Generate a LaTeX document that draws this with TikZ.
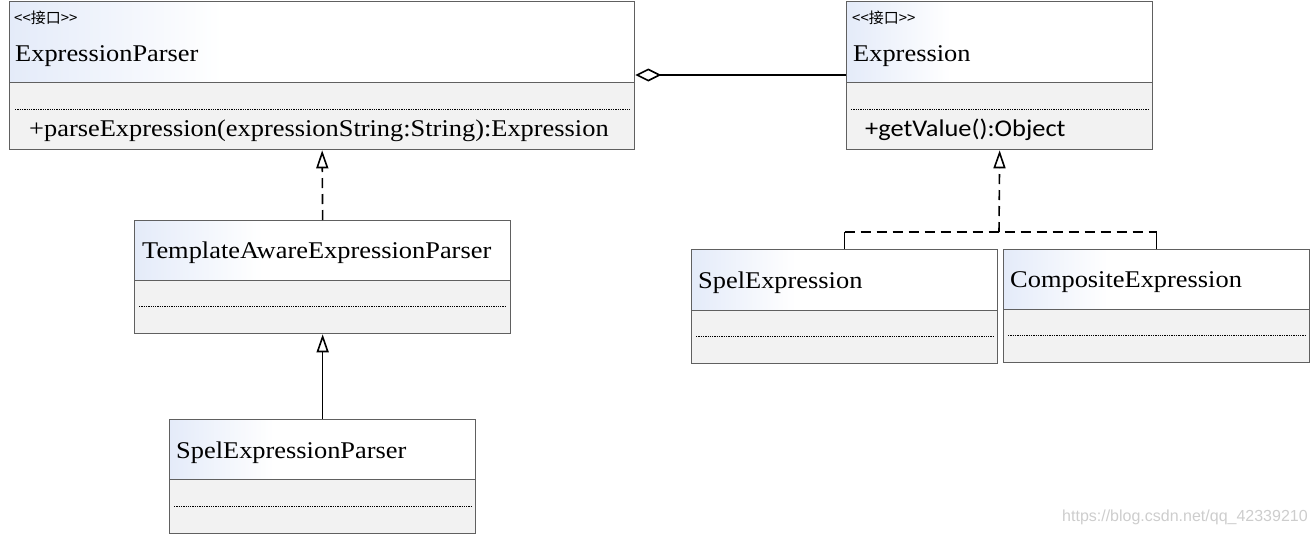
\documentclass[tikz,border=0pt]{standalone}
\usepackage{fontspec}
\setmainfont{Liberation Serif}[FakeStretch=1.1]
\newfontfamily\calfont{Carlito}[FakeStretch=1.1]
\newfontfamily\cjkfont{Noto Sans CJK SC}
\newfontfamily\wmfont{Liberation Sans}
\usetikzlibrary{arrows.meta}
\definecolor{boxline}{RGB}{96,96,96}
\definecolor{headblue}{RGB}{228,235,249}
\definecolor{bodygray}{RGB}{242,242,242}
\definecolor{wmgray}{RGB}{205,205,205}
\pgfdeclarehorizontalshading{headshade}{100bp}{color(0bp)=(headblue); color(25bp)=(headblue); color(42bp)=(white); color(100bp)=(white)}
\tikzset{
  umlhead/.style={rectangle, draw=boxline, line width=1.3pt, shading=headshade, inner sep=0pt, anchor=north west},
  umlbody/.style={rectangle, draw=boxline, line width=1.3pt, fill=bodygray, inner sep=0pt, anchor=north west},
  nametext/.style={anchor=base west, inner sep=0pt, font=\fontsize{24}{28}\selectfont},
  calmethod/.style={anchor=base west, inner sep=0pt, font=\calfont\fontsize{24}{28}\selectfont},
  stereo/.style={anchor=west, inner sep=0pt, font=\cjkfont\fontsize{15}{17}\selectfont},
  dotline/.style={line width=1pt, dash pattern=on 1.3pt off 1pt},
  conn/.style={line width=1.6pt, black},
  dashconn/.style={conn, dash pattern=on 10pt off 6pt},
  realtip/.style={-{Triangle[open,length=18pt,width=12pt,line width=1.6pt]}},
  aggtip/.style={-{Diamond[open,length=26pt,width=13pt,line width=1.6pt]}},
  wmark/.style={anchor=west, inner sep=0pt, text=wmgray, font=\wmfont\fontsize{16}{18}\selectfont}
}
\begin{document}
\begin{tikzpicture}[x=1pt,y=-1pt]
\useasboundingbox (0,0) rectangle (1313,535);
% ExpressionParser
\node[umlhead, minimum width=625pt, minimum height=81pt] (epH) at (9,1) {};
\node[umlbody, minimum width=625pt, minimum height=67pt] (epB) at (9,82) {};
\draw[dotline] ([shift={(6pt,-27pt)}]epB.north west) -- ([shift={(-5pt,-27pt)}]epB.north east);
\node[stereo] (epS) at (14,18) {<<接口>>};
\node[nametext] (epN) at (15,61) {ExpressionParser};
\node[nametext] (epM) at (29,136) {+parseExpression(expressionString:String):Expression};
% Expression
\node[umlhead, minimum width=306pt, minimum height=81pt] (exH) at (846,1) {};
\node[umlbody, minimum width=306pt, minimum height=67pt] (exB) at (846,82) {};
\draw[dotline] ([shift={(5pt,-27pt)}]exB.north west) -- ([shift={(-5pt,-27pt)}]exB.north east);
\node[stereo] (exS) at (852,18) {<<接口>>};
\node[nametext] (exN) at (853,61) {Expression};
\node[calmethod] (exM) at (865,136) {+getValue():Object};
% TemplateAwareExpressionParser
\node[umlhead, minimum width=376pt, minimum height=60pt] (taH) at (134,220) {};
\node[umlbody, minimum width=376pt, minimum height=53pt] (taB) at (134,280) {};
\draw[dotline] ([shift={(5pt,-26pt)}]taB.north west) -- ([shift={(-5pt,-26pt)}]taB.north east);
\node[nametext] (taN) at (142,258) {TemplateAwareExpressionParser};
% SpelExpressionParser
\node[umlhead, minimum width=306pt, minimum height=60pt] (spH) at (169,419) {};
\node[umlbody, minimum width=306pt, minimum height=54pt] (spB) at (169,479) {};
\draw[dotline] ([shift={(5pt,-27pt)}]spB.north west) -- ([shift={(-5pt,-27pt)}]spB.north east);
\node[nametext] (spN) at (176,458) {SpelExpressionParser};
% SpelExpression
\node[umlhead, minimum width=306pt, minimum height=61pt] (seH) at (691,249) {};
\node[umlbody, minimum width=306pt, minimum height=53pt] (seB) at (691,310) {};
\draw[dotline] ([shift={(5pt,-26pt)}]seB.north west) -- ([shift={(-5pt,-26pt)}]seB.north east);
\node[nametext] (seN) at (698,288) {SpelExpression};
% CompositeExpression
\node[umlhead, minimum width=306pt, minimum height=60pt] (ceH) at (1003,249) {};
\node[umlbody, minimum width=306pt, minimum height=53pt] (ceB) at (1003,309) {};
\draw[dotline] ([shift={(5pt,-26pt)}]ceB.north west) -- ([shift={(-5pt,-26pt)}]ceB.north east);
\node[nametext] (ceN) at (1010,287) {CompositeExpression};
% connectors
\coordinate (aggY) at (0,75);
\draw[conn, aggtip] (exH.west |- aggY) -- (epH.east |- aggY);
\draw[dashconn, realtip] (taH.north) -- (epB.south);
\draw[conn, realtip] (spH.north) -- (taB.south);
\coordinate (jn) at (999,232);
\coordinate (jl) at (seH.north |- jn);
\coordinate (jr) at (ceH.north |- jn);
\draw[dashconn, realtip] (jn) -- (exB.south);
\draw[dashconn] (jl) -- (jr);
\draw[conn] (seH.north) -- (jl);
\draw[conn] (ceH.north) -- (jr);
% watermark
\node[wmark] (wm) at (1062,517) {https://blog.csdn.net/qq\_42339210};
\end{tikzpicture}
\end{document}
